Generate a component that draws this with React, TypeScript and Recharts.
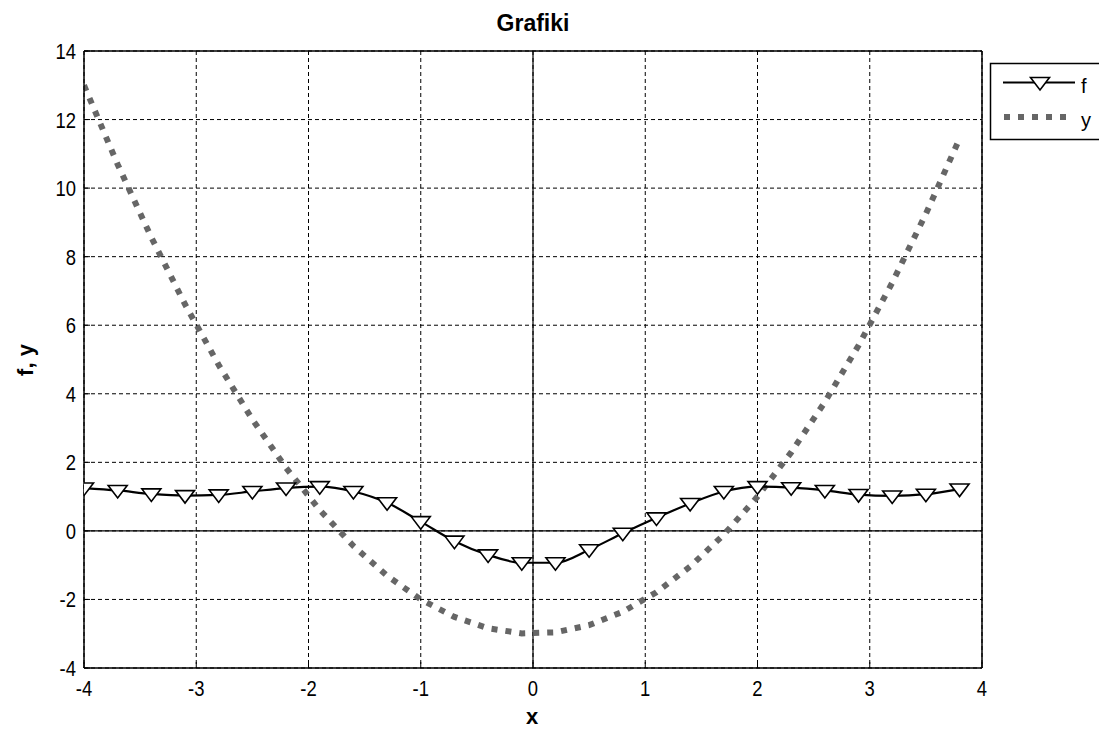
import React from 'react';
import { LineChart, Line, XAxis, YAxis, CartesianGrid, ReferenceLine } from 'recharts';

const xValues = [-4, -3.7, -3.4, -3.1, -2.8, -2.5, -2.2, -1.9, -1.6, -1.3, -1, -0.7, -0.4, -0.1, 0.2, 0.5, 0.8, 1.1, 1.4, 1.7, 2, 2.3, 2.6, 2.9, 3.2, 3.5, 3.8];
const fValues = [1.25, 1.18, 1.08, 1.03, 1.05, 1.15, 1.25, 1.29, 1.15, 0.82, 0.27, -0.3, -0.7, -0.93, -0.93, -0.55, -0.07, 0.38, 0.8, 1.15, 1.29, 1.26, 1.18, 1.06, 1.02, 1.07, 1.22];
const yValues = [13, 10.69, 8.56, 6.61, 4.84, 3.25, 1.84, 0.61, -0.44, -1.31, -2, -2.51, -2.84, -2.99, -2.96, -2.75, -2.36, -1.79, -1.04, -0.11, 1, 2.29, 3.76, 5.41, 7.24, 9.25, 11.44];
const xTicks = [-4, -3, -2, -1, 0, 1, 2, 3, 4];
const yTicks = [-4, -2, 0, 2, 4, 6, 8, 10, 12, 14];

const data = xValues.map((x, i) => ({ x, f: fValues[i], y: yValues[i] }));

const SANS = '"Liberation Sans", Arial, sans-serif';

const XTick = (props: any) => {
  const { x, y, payload } = props;
  return (
    <g transform={`translate(${x},${y})`}>
      <text x={0} y={0} dy="0.71em" textAnchor="middle" transform="scale(0.82,1)" fontFamily={SANS} fontSize={22.5} fill="#000">
        {payload.value}
      </text>
    </g>
  );
};

const YTick = (props: any) => {
  const { x, y, payload } = props;
  return (
    <g transform={`translate(${x},${y})`}>
      <text x={0} y={0} dy="0.355em" textAnchor="end" transform="scale(0.82,1)" fontFamily={SANS} fontSize={22.5} fill="#000">
        {payload.value}
      </text>
    </g>
  );
};

const TriDot = (props: any) => {
  const { cx, cy, index } = props;
  if (cx == null || cy == null) return <g key={`d${index}`} />;
  const d = `M${cx - 9.5},${cy - 5} L${cx + 9.5},${cy - 5} L${cx},${cy + 7.5} Z`;
  return <path key={`d${index}`} d={d} fill="#fff" stroke="#000" strokeWidth={1.6} strokeLinejoin="miter" />;
};

export default function App() {
  return (
    <div style={{ position: 'absolute', left: 0, top: 0, width: 1099, height: 731, overflow: 'hidden', background: '#fff' }}>
      <div style={{ position: 'absolute', left: 0, top: 0, width: 1066, textAlign: 'center', fontFamily: SANS, fontWeight: 'bold', fontSize: 23, lineHeight: '23px', paddingTop: 12 }}>
        Grafiki
      </div>
      <LineChart width={1099} height={731} data={data} margin={{ top: 51, right: 117, bottom: 0, left: 0 }}>
        <CartesianGrid stroke="#000" strokeDasharray="4 3" strokeWidth={1} />
        <XAxis
          dataKey="x"
          type="number"
          domain={[-4, 4]}
          ticks={xTicks}
          height={63}
          tickSize={-6}
          tickMargin={18}
          stroke="#000"
          axisLine={{ stroke: '#000', strokeWidth: 1.5 }}
          tickLine={{ stroke: '#000' }}
          tick={XTick}
          allowDataOverflow
          label={{
            content: () => (
              <text x={532} y={724} textAnchor="middle" fontFamily={SANS} fontWeight="bold" fontSize={22} fill="#000">x</text>
            ),
          }}
        />
        <YAxis
          type="number"
          domain={[-4, 14]}
          ticks={yTicks}
          width={84}
          tickSize={-6}
          tickMargin={14}
          stroke="#000"
          axisLine={{ stroke: '#000', strokeWidth: 1.5 }}
          tickLine={{ stroke: '#000' }}
          tick={YTick}
          allowDataOverflow
          label={{
            content: () => (
              <text x={0} y={0} transform="translate(33,360) rotate(-90)" textAnchor="middle" fontFamily={SANS} fontWeight="bold" fontSize={22} fill="#000">f, y</text>
            ),
          }}
        />
        <ReferenceLine y={0} stroke="#000" strokeWidth={1.2} />
        <ReferenceLine x={0} stroke="#000" strokeWidth={1.2} />
        <ReferenceLine y={14} stroke="#000" strokeWidth={1.5} />
        <ReferenceLine x={4} stroke="#000" strokeWidth={1.5} />
        <Line
          dataKey="y"
          type="linear"
          stroke="#666"
          strokeWidth={6}
          strokeDasharray="6 8"
          dot={false}
          activeDot={false}
          isAnimationActive={false}
        />
        <Line
          dataKey="f"
          type="monotone"
          stroke="#000"
          strokeWidth={2.2}
          dot={TriDot}
          activeDot={false}
          isAnimationActive={false}
        />
      </LineChart>
      <svg style={{ position: 'absolute', left: 989, top: 62 }} width={120} height={80}>
        <rect x={1.5} y={1.5} width={130} height={76} fill="#fff" stroke="#000" strokeWidth={1.5} />
        <line x1={14} y1={20.5} x2={86} y2={20.5} stroke="#000" strokeWidth={2.2} />
        <path d="M41.5,15.5 L60.5,15.5 L51,28 Z" fill="#fff" stroke="#000" strokeWidth={1.6} />
        <text x={92} y={31} fontFamily={SANS} fontSize={20} fill="#000">f</text>
        <line x1={15} y1={55} x2={82} y2={55} stroke="#666" strokeWidth={6} strokeDasharray="6 8" />
        <text x={92} y={65} fontFamily={SANS} fontSize={20} fill="#000">y</text>
      </svg>
    </div>
  );
}
